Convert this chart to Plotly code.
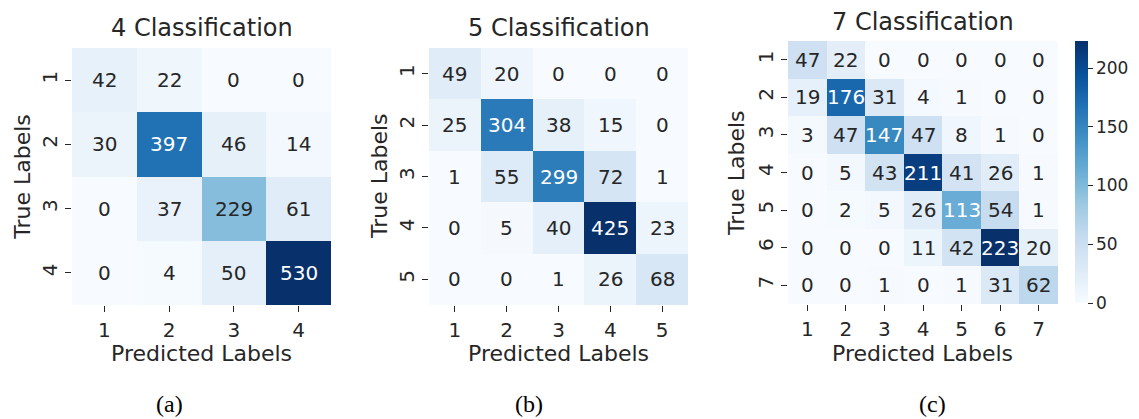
import plotly.graph_objects as go
import plotly.colors as pc

# ---------------- data ----------------
labels4 = ["1", "2", "3", "4"]
cm4 = [
    [42, 22, 0, 0],
    [30, 397, 46, 14],
    [0, 37, 229, 61],
    [0, 4, 50, 530],
]
labels5 = ["1", "2", "3", "4", "5"]
cm5 = [
    [49, 20, 0, 0, 0],
    [25, 304, 38, 15, 0],
    [1, 55, 299, 72, 1],
    [0, 5, 40, 425, 23],
    [0, 0, 1, 26, 68],
]
labels7 = ["1", "2", "3", "4", "5", "6", "7"]
cm7 = [
    [47, 22, 0, 0, 0, 0, 0],
    [19, 176, 31, 4, 1, 0, 0],
    [3, 47, 147, 47, 8, 1, 0],
    [0, 5, 43, 211, 41, 26, 1],
    [0, 2, 5, 26, 113, 54, 1],
    [0, 0, 0, 11, 42, 223, 20],
    [0, 0, 1, 0, 1, 31, 62],
]
titles = ["4 Classification", "5 Classification", "7 Classification"]
captions = ["(a)", "(b)", "(c)"]
colorbar_ticks = [0, 50, 100, 150, 200]

# ---------------- style ----------------
W, H = 1139, 419
FONT = "DejaVu Sans"
TXT = "#262626"
BLUES = pc.sequential.Blues  # light -> dark, same as matplotlib Blues
scale = [[i / (len(BLUES) - 1), c] for i, c in enumerate(BLUES)]


def to_rgb(c):
    if c.startswith("#"):
        return pc.hex_to_rgb(c)
    return pc.unlabel_rgb(c)


def interp_color(t):
    t = min(max(t, 0), 1)
    n = len(BLUES) - 1
    i = min(int(t * n), n - 1)
    f = t * n - i
    a = to_rgb(BLUES[i])
    b = to_rgb(BLUES[i + 1])
    return [a[k] + (b[k] - a[k]) * f for k in range(3)]


def luminance(rgb):
    lin = []
    for c in rgb:
        c = c / 255
        lin.append(c / 12.92 if c <= 0.03928 else ((c + 0.055) / 1.055) ** 2.4)
    return 0.2126 * lin[0] + 0.7152 * lin[1] + 0.0722 * lin[2]


# pixel boxes of the three heatmaps (x0, x1, ytop, ybottom)
boxes = [(72, 331, 48, 305), (429, 688, 48, 305), (788, 1058, 41, 304)]
title_pos = [(201.7, 28), (558.8, 28), (923, 22)]
xlab_pos = [(201.7, 353), (558.8, 353), (922.8, 353)]
ylab_pos = [(21.7, 177), (379, 176), (736, 173)]
cap_pos = [(170, 404), (529, 404), (932, 404)]

fig = go.Figure()
annotations = []
datasets = [(cm4, labels4), (cm5, labels5), (cm7, labels7)]

for k, (cm, labs) in enumerate(datasets):
    n = len(labs)
    xs = list(range(1, n + 1))
    zmax = max(max(r) for r in cm)
    zmin = min(min(r) for r in cm)
    ax = "" if k == 0 else str(k + 1)
    trace = go.Heatmap(
        z=cm, x=xs, y=xs, colorscale=scale, zmin=zmin, zmax=zmax,
        xaxis="x" + ax, yaxis="y" + ax, showscale=(k == 2),
        hoverinfo="skip",
    )
    if k == 2:
        trace.colorbar = dict(
            x=1075 / W, xanchor="left", xpad=0, thickness=13,
            y=1 - 303 / H, yanchor="bottom", ypad=0,
            len=262 / H, lenmode="fraction", outlinewidth=0,
            tickvals=colorbar_ticks, ticks="outside", ticklen=5,
            tickwidth=1.2, tickcolor=TXT,
            tickfont=dict(family=FONT, size=17, color=TXT),
        )
    fig.add_trace(trace)

    x0, x1, yt, yb = boxes[k]
    axis_common = dict(
        showgrid=False, zeroline=False, showline=False,
        ticks="outside", ticklen=6, tickwidth=1.2, tickcolor=TXT,
        tickfont=dict(family=FONT, size=20, color=TXT),
        tickvals=xs, ticktext=labs,
    )
    fig.layout["xaxis" + ax] = dict(
        axis_common, domain=[x0 / W, x1 / W], range=[0.5, n + 0.5],
        anchor="y" + ax, ticklabelstandoff=1,
    )
    fig.layout["yaxis" + ax] = dict(
        axis_common, domain=[1 - yb / H, 1 - yt / H], range=[n + 0.5, 0.5],
        anchor="x" + ax, tickangle=-90,
    )

    # cell values
    for i in range(n):
        for j in range(n):
            v = cm[i][j]
            col = interp_color((v - zmin) / (zmax - zmin))
            tc = "white" if luminance(col) <= 0.408 else TXT
            annotations.append(dict(
                x=xs[j], y=xs[i], xref="x" + ax, yref="y" + ax,
                text=str(v), showarrow=False,
                font=dict(family=FONT, size=20, color=tc),
            ))

    tx, ty = title_pos[k]
    annotations.append(dict(x=tx / W, y=1 - ty / H, xref="paper", yref="paper",
                            text=titles[k], showarrow=False, xanchor="center",
                            yanchor="middle",
                            font=dict(family=FONT, size=24, color=TXT)))
    lx, ly = xlab_pos[k]
    annotations.append(dict(x=lx / W, y=1 - ly / H, xref="paper", yref="paper",
                            text="Predicted Labels", showarrow=False,
                            xanchor="center", yanchor="middle",
                            font=dict(family=FONT, size=22, color=TXT)))
    vx, vy = ylab_pos[k]
    annotations.append(dict(x=vx / W, y=1 - vy / H, xref="paper", yref="paper",
                            text="True Labels", showarrow=False, textangle=-90,
                            xanchor="center", yanchor="middle",
                            font=dict(family=FONT, size=22, color=TXT)))
    cx, cy = cap_pos[k]
    annotations.append(dict(x=cx / W, y=1 - cy / H, xref="paper", yref="paper",
                            text=captions[k], showarrow=False,
                            xanchor="center", yanchor="middle",
                            font=dict(family="Liberation Serif", size=24,
                                      color="#000000")))

fig.update_layout(
    width=W, height=H, margin=dict(l=0, r=0, t=0, b=0),
    paper_bgcolor="white", plot_bgcolor="white",
    annotations=annotations, showlegend=False,
    font=dict(family=FONT, color=TXT),
)

fig.write_html(
    "out.html",
    config={"displayModeBar": False},
    post_script="document.body.style.margin='0';document.body.style.overflow='hidden';",
)
